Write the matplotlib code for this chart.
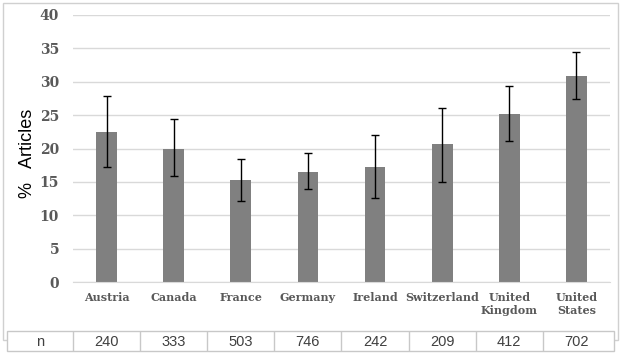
import matplotlib.pyplot as plt
from matplotlib.patches import Rectangle

# data
countries = ['Austria', 'Canada', 'France', 'Germany', 'Ireland',
             'Switzerland', 'United\nKingdom', 'United\nStates']
pct = [22.5, 20.0, 15.3, 16.5, 17.3, 20.6, 25.1, 30.9]
err_low = [17.3, 15.9, 12.1, 13.9, 12.6, 15.0, 21.1, 27.4]
err_high = [27.8, 24.4, 18.4, 19.3, 22.0, 26.0, 29.4, 34.4]
n_counts = [240, 333, 503, 746, 242, 209, 412, 702]

W, H = 624, 354
fig = plt.figure(figsize=(W / 100, H / 100), dpi=100)

# light frame around the chart area
fig.patches.append(Rectangle((3 / W, 1 - 340 / H), 615 / W, 337 / H,
                             transform=fig.transFigure, fill=False,
                             edgecolor='#d0d0d0', lw=1, zorder=-5))

ax = fig.add_axes([73 / W, 1 - 282 / H, 537 / W, 267 / H])
x = list(range(len(countries)))
lower = [p - lo for p, lo in zip(pct, err_low)]
upper = [hi - p for p, hi in zip(pct, err_high)]
ax.bar(x, pct, width=0.31, color='#808080', zorder=2)
ax.errorbar(x, pct, yerr=[lower, upper], fmt='none', ecolor='black',
            elinewidth=1, capsize=3, capthick=1, zorder=3)

ax.set_xlim(-0.5, 7.5)
ax.set_ylim(0, 40)
ax.set_yticks(range(0, 41, 5))
ax.yaxis.grid(True, color='#d9d9d9', lw=1)
ax.set_axisbelow(True)
for s in ['top', 'right', 'left']:
    ax.spines[s].set_visible(False)
ax.spines['bottom'].set_color('#d9d9d9')
ax.tick_params(axis='both', length=0)
ax.tick_params(axis='y', pad=10)
ax.set_xticks(x)
ax.set_xticklabels(countries, fontsize=8, family='DejaVu Serif',
                   fontweight='bold', color='#595959', linespacing=1.3,
                   va='top')
ax.tick_params(axis='x', pad=7)
for lab in ax.get_yticklabels():
    lab.set_family('DejaVu Serif')
    lab.set_fontweight('bold')
    lab.set_color('#595959')
    lab.set_fontsize(10)
ax.set_ylabel('%   Articles', fontsize=13, family='Liberation Sans',
              color='black')
ax.yaxis.set_label_coords(-0.068, 0.48)

# n table below the chart
tab = fig.add_axes([7 / W, 1 - 351 / H, 607 / W, 20 / H])
tab.set_zorder(5)
tab.set_xlim(-1.48, 7.56)
tab.set_ylim(0, 1)
tab.axis('off')
tab.add_patch(Rectangle((-1.48, 0), 9.04, 1, facecolor='white',
                        edgecolor='#c8c8c8', lw=1, clip_on=False, zorder=1))
for b in [-0.5 + i for i in range(8)]:
    tab.plot([b, b], [0, 1], color='#c8c8c8', lw=1, zorder=2)
tab.text(-0.99, 0.45, 'n', ha='center', va='center', fontsize=10.5,
         family='Liberation Sans', color='#404040', zorder=3)
for i, n in enumerate(n_counts):
    tab.text(i, 0.45, str(n), ha='center', va='center', fontsize=10.5,
             family='Liberation Sans', color='#404040', zorder=3)

fig.savefig('out.png', dpi=100)
